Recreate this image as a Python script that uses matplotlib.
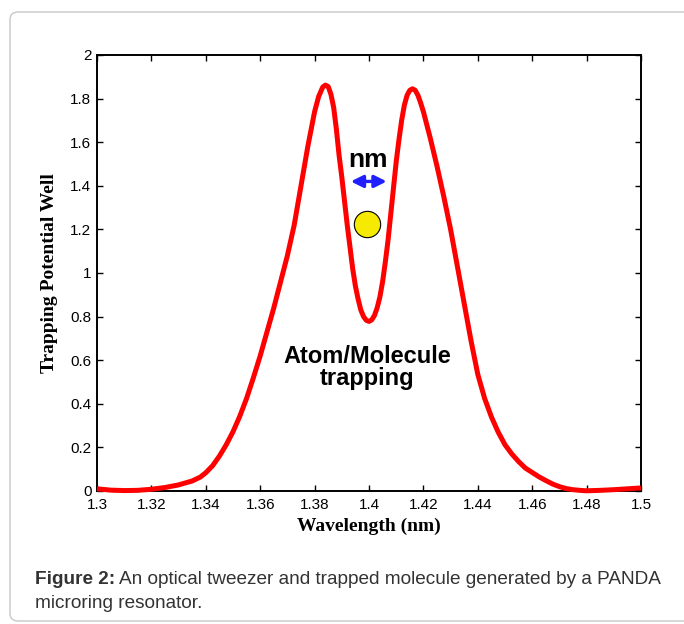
import numpy as np
import matplotlib
matplotlib.use("Agg")
import matplotlib.pyplot as plt
from matplotlib.patches import FancyBboxPatch

# Values
wavelength = [1.300, 1.305, 1.310, 1.315, 1.320, 1.325, 1.330, 1.335, 1.338, 1.340,
              1.3425, 1.345, 1.3475, 1.350, 1.3525, 1.355, 1.3575, 1.360, 1.3625, 1.365,
              1.3675, 1.370, 1.3725, 1.375, 1.3775, 1.380, 1.3815, 1.383, 1.384, 1.385,
              1.386, 1.387, 1.388, 1.389, 1.390, 1.391, 1.392, 1.393, 1.394, 1.395,
              1.396, 1.397, 1.398, 1.399, 1.400, 1.401, 1.402, 1.403, 1.404, 1.405,
              1.406, 1.407, 1.408, 1.409, 1.410, 1.411, 1.412, 1.413, 1.414, 1.415,
              1.416, 1.417, 1.418, 1.419, 1.420, 1.4225, 1.425, 1.4275, 1.430, 1.4325,
              1.435, 1.4375, 1.440, 1.4425, 1.445, 1.4475, 1.450, 1.4525, 1.455, 1.4575,
              1.460, 1.4625, 1.465, 1.4675, 1.470, 1.4725, 1.475, 1.4775, 1.480, 1.485,
              1.490, 1.495, 1.500]
potential = [0.010, 0.004, 0.002, 0.003, 0.008, 0.016, 0.028, 0.046, 0.064, 0.084,
             0.116, 0.160, 0.212, 0.272, 0.343, 0.425, 0.520, 0.620, 0.730, 0.840,
             0.960, 1.080, 1.220, 1.400, 1.580, 1.740, 1.810, 1.853, 1.862, 1.855,
             1.820, 1.760, 1.660, 1.540, 1.440, 1.330, 1.220, 1.120, 1.020, 0.940,
             0.880, 0.830, 0.800, 0.783, 0.778, 0.785, 0.805, 0.840, 0.890, 0.960,
             1.050, 1.150, 1.270, 1.390, 1.510, 1.610, 1.700, 1.770, 1.815, 1.838,
             1.845, 1.838, 1.815, 1.780, 1.740, 1.620, 1.490, 1.350, 1.200, 1.030,
             0.860, 0.690, 0.535, 0.425, 0.340, 0.270, 0.212, 0.170, 0.135, 0.105,
             0.085, 0.065, 0.048, 0.032, 0.020, 0.011, 0.006, 0.003, 0.001, 0.003,
             0.006, 0.010, 0.014]
xticks = [1.3, 1.32, 1.34, 1.36, 1.38, 1.4, 1.42, 1.44, 1.46, 1.48, 1.5]
xticklabels = ["1.3", "1.32", "1.34", "1.36", "1.38", "1.4", "1.42", "1.44", "1.46", "1.48", "1.5"]
yticks = [0, 0.2, 0.4, 0.6, 0.8, 1, 1.2, 1.4, 1.6, 1.8, 2]
yticklabels = ["0", "0.2", "0.4", "0.6", "0.8", "1", "1.2", "1.4", "1.6", "1.8", "2"]

fig = plt.figure(figsize=(6.84, 6.24), dpi=100)

# rounded frame around the figure
frame = FancyBboxPatch((10 / 684, 3 / 624), 690 / 684, 609 / 624,
                       boxstyle="round,pad=0,rounding_size=0.012",
                       transform=fig.transFigure, facecolor="none",
                       edgecolor="#c8c8c8", linewidth=1.0, zorder=-1)
fig.patches.append(frame)

ax = fig.add_axes([97 / 684, 1 - 491 / 624, 544 / 684, 436 / 624])
ax.plot(wavelength, potential, color="#ff0000", linewidth=3.6,
        solid_joinstyle="round", solid_capstyle="butt", clip_on=False, zorder=3)

ax.set_xlim(1.3, 1.5)
ax.set_ylim(0, 2)
ax.set_xticks(xticks)
ax.set_xticklabels(xticklabels)
ax.set_yticks(yticks)
ax.set_yticklabels(yticklabels)
ax.tick_params(direction="in", length=4.5, width=1.0, top=True, right=True,
               labelsize=11, pad=4)
ax.tick_params(axis="x", pad=5)
for lab in ax.get_xticklabels() + ax.get_yticklabels():
    lab.set_family("Liberation Sans")
for sp in ax.spines.values():
    sp.set_linewidth(1.4)

ax.set_xlabel("Wavelength (nm)", family="Liberation Serif", fontweight="bold",
              fontsize=14, labelpad=4)
ax.set_ylabel("Trapping Potential Well", family="Liberation Serif", fontweight="bold",
              fontsize=14, labelpad=9)

# annotations
ax.text(1.3998, 1.52, "nm", family="Liberation Sans", fontweight="bold",
        fontsize=19, ha="center", va="center")
ax.annotate("", xy=(1.3933, 1.42), xytext=(1.4065, 1.42),
            arrowprops=dict(arrowstyle="<|-|>", color="#1f1fff", lw=2.4,
                            mutation_scale=18, shrinkA=0, shrinkB=0))
ax.scatter([1.3993], [1.225], s=360, color="#f5ea00", edgecolors="black",
           linewidths=0.8, zorder=4)
ax.text(1.3993, 0.567, "Atom/Molecule\ntrapping", family="Liberation Sans",
        fontweight="bold", fontsize=17, ha="center", va="center", linespacing=0.95)

# caption
cap_y = 1 - 580 / 624
t1 = fig.text(35 / 684, cap_y, "Figure 2:", family="Liberation Sans", fontweight="bold",
              fontsize=13.7, color="#333333", va="center", ha="left")
renderer = fig.canvas.get_renderer()
bb = t1.get_window_extent(renderer=renderer)
fig.text((bb.x1 + 4) / fig.bbox.width, cap_y,
         "An optical tweezer and trapped molecule generated by a PANDA",
         family="Liberation Sans", fontsize=13.7, color="#333333", va="center", ha="left")
fig.text(35 / 684, 1 - 603 / 624, "microring resonator.", family="Liberation Sans",
         fontsize=13.7, color="#333333", va="center", ha="left")

fig.savefig("out.png", dpi=100)
